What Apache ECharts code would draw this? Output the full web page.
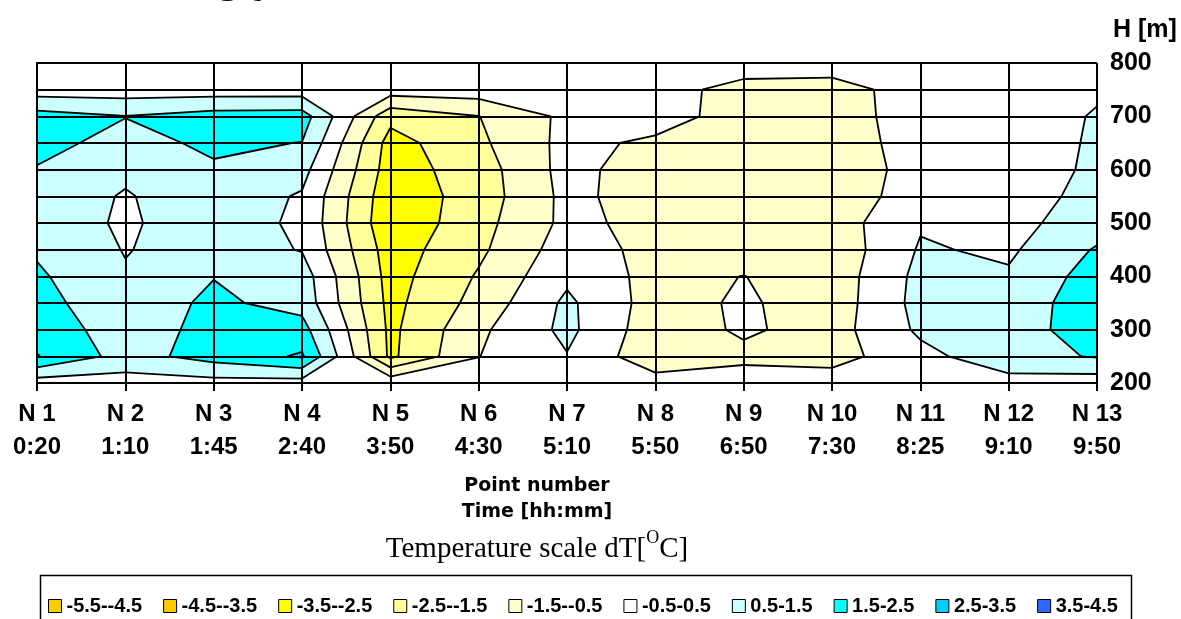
<!DOCTYPE html>
<html>
<head>
<meta charset="utf-8">
<script src="https://cdn.jsdelivr.net/npm/echarts@6/dist/echarts.min.js"></script>
<style>
html,body{margin:0;padding:0;background:#fff;}
#main{width:1181px;height:619px;}
</style>
</head>
<body>
<div id="main"></div>
<script>
var pointLabels = ['N 1','N 2','N 3','N 4','N 5','N 6','N 7','N 8','N 9','N 10','N 11','N 12','N 13'];
var timeLabels = ['0:20','1:10','1:45','2:40','3:50','4:30','5:10','5:50','6:50','7:30','8:25','9:10','9:50'];
var heights = [200,250,300,350,400,450,500,550,600,650,700,750,800];

// dT at each height, N1..N13
var dT800 = [0, -0.1, -0.1, -0.2, 0, 0.05, 0.1, 0, 0.1, 0.1, 0, 0, 0];
var dT750 = [0, 0, 0, 0, 0, 0.04, 0.1, -0.05, -0.9, -1.0, 0.05, 0, 0.45];
var dT700 = [1.9, 1.52, 1.9, 1.95, -2.2, -1.52, -0.27, 0.0, -1.0, -1.0, 0.0, 0.3, 0.53];
var dT650 = [1.75, 1.23, 1.65, 1.48, -2.9, -1.7, -0.2, -0.7, -1.0, -1.0, -0.1, 0.2, 0.57];
var dT600 = [1.45, 0.7, 1.4, 0.85, -3.0, -1.98, -0.15, -1.08, -1.1, -1.0, -0.2, 0.1, 0.63];
var dT550 = [1.1, 0.42, 1.1, 0.4, -3.2, -2.03, -0.23, -1.0, -1.1, -1.0, -0.1, 0.1, 0.77];
var dT500 = [1.0, 0.375, 1.0, 0.33, -3.3, -1.85, -0.25, -0.8, -1.1, -1.0, 0.4, 0.2, 1.0];
var dT450 = [1.38, 0.45, 1.0, 0.45, -3.0, -1.7, 0.0, -0.8, -1.1, -1.18, 0.6, 0.34, 1.6];
var dT400 = [1.65, 0.6, 1.47, 1.0, -2.9, -1.4, 0.3, -0.84, -0.48, -1.07, 0.78, 0.62, 1.95];
var dT350 = [1.8, 0.9, 1.7, 1.13, -2.8, -1.15, 0.7, -0.94, -0.35, -1.05, 0.84, 0.9, 2.1];
var dT300 = [2.1, 1.0, 1.8, 1.9, -2.73, -0.7, 0.75, -1.09, -0.35, -0.91, 0.68, 1.0, 2.06];
var dT250 = [2.55, 1.1, 1.9, 2.62, -2.7, -0.52, 0.45, -1.2, -0.74, -0.9, 0.2, 1.14, 1.58];
var dT200 = [0.0, 0.1, 0.15, 0.08, 0.2, 0.0, 0.2, -0.05, 0.0, 0.03, 0.0, 0.14, -0.05];

var bandLimits = [-5.5,-4.5,-3.5,-2.5,-1.5,-0.5,0.5,1.5,2.5,3.5,4.5];
var bandNames = ['-5.5--4.5','-4.5--3.5','-3.5--2.5','-2.5--1.5','-1.5--0.5','-0.5-0.5','0.5-1.5','1.5-2.5','2.5-3.5','3.5-4.5'];
var bandColors = ['#FFCC00','#FFC800','#FFFF00','#FFFF99','#FFFFCC','#FFFFFF','#CCFFFF','#00FFFF','#00CCFF','#3366FF'];

var rows = [dT200,dT250,dT300,dT350,dT400,dT450,dT500,dT550,dT600,dT650,dT700,dT750,dT800];

var cells = [];
for (var j = 0; j < heights.length - 1; j++) {
	for (var i = 0; i < pointLabels.length - 1; i++) {
		cells.push([i, heights[j], j]);
	}
}

function cellCorners(i, j) {
	return [
		{x: i, y: heights[j], v: rows[j][i]},
		{x: i + 1, y: heights[j], v: rows[j][i + 1]},
		{x: i + 1, y: heights[j + 1], v: rows[j + 1][i + 1]},
		{x: i, y: heights[j + 1], v: rows[j + 1][i]}
	];
}

// keep the part of the cell above (or below) level t, values linear along edges
function clip(poly, t, above) {
	var out = [];
	for (var k = 0; k < poly.length; k++) {
		var p = poly[k], q = poly[(k + 1) % poly.length];
		var pin = above ? p.v >= t : p.v <= t;
		var qin = above ? q.v >= t : q.v <= t;
		if (pin) out.push(p);
		if (pin !== qin) {
			var f = (t - p.v) / (q.v - p.v);
			out.push({x: p.x + (q.x - p.x) * f, y: p.y + (q.y - p.y) * f, v: t});
		}
	}
	return out;
}

function renderFill(params, api) {
	var c = cellCorners(api.value(0), api.value(2));
	var children = [];
	for (var b = 0; b < bandColors.length; b++) {
		var poly = clip(clip(c, bandLimits[b], true), bandLimits[b + 1], false);
		if (poly.length < 3) continue;
		var pts = poly.map(function (p) { return api.coord([p.x, p.y]); });
		children.push({
			type: 'polygon',
			shape: {points: pts},
			style: {fill: bandColors[b], stroke: bandColors[b], lineWidth: 1}
		});
	}
	return {type: 'group', children: children};
}

function renderLines(params, api) {
	var c = cellCorners(api.value(0), api.value(2));
	var children = [];
	for (var l = 1; l < bandLimits.length - 1; l++) {
		var t = bandLimits[l];
		var cross = [];
		for (var e = 0; e < 4; e++) {
			var a = c[e], b = c[(e + 1) % 4];
			if ((a.v >= t) !== (b.v >= t)) {
				var f = (t - a.v) / (b.v - a.v);
				cross[e] = api.coord([a.x + (b.x - a.x) * f, a.y + (b.y - a.y) * f]);
			}
		}
		var idx = [];
		for (var e2 = 0; e2 < 4; e2++) if (cross[e2]) idx.push(e2);
		var pairs = [];
		if (idx.length === 2) {
			pairs.push([idx[0], idx[1]]);
		} else if (idx.length === 4) {
			var mid = (c[0].v + c[1].v + c[2].v + c[3].v) / 4;
			var c0up = c[0].v >= t;
			if ((mid >= t) === c0up) {
				pairs.push([0, 1]); pairs.push([2, 3]);
			} else {
				pairs.push([3, 0]); pairs.push([1, 2]);
			}
		}
		pairs.forEach(function (pr) {
			var p1 = cross[pr[0]], p2 = cross[pr[1]];
			children.push({
				type: 'line',
				shape: {x1: p1[0], y1: p1[1], x2: p2[0], y2: p2[1]},
				style: {stroke: '#000', lineWidth: 1.8}
			});
		});
	}
	return {type: 'group', children: children};
}

var series = [
	{name: 'fill', type: 'custom', renderItem: renderFill, data: cells, z: 2, silent: true, clip: true},
	{name: 'lines', type: 'custom', renderItem: renderLines, data: cells, z: 3, silent: true, clip: true}
];
bandNames.forEach(function (n, k) {
	series.push({name: n, type: 'scatter', data: [], itemStyle: {color: bandColors[k], opacity: 1}});
});

var chart = echarts.init(document.getElementById('main'));
var option = {
	animation: false,
	backgroundColor: '#fff',
	grid: {left: 37, right: 84, top: 63, bottom: 236},
	xAxis: {
		type: 'value', min: 0, max: 12, interval: 1, z: 10,
		axisLine: {show: true, lineStyle: {color: '#000', width: 2}},
		axisTick: {show: true, length: 8, lineStyle: {color: '#000', width: 2}},
		splitLine: {show: true, lineStyle: {color: '#000', width: 2}},
		axisLabel: {
			formatter: function (v) { return pointLabels[v] + '\n' + timeLabels[v]; },
			fontFamily: 'Liberation Sans, Arial', fontWeight: 'bold', fontSize: 24,
			lineHeight: 33, color: '#000', margin: 15
		}
	},
	yAxis: {
		type: 'value', position: 'right', min: 200, max: 800, interval: 50, z: 10,
		axisLine: {show: true, lineStyle: {color: '#000', width: 2}},
		axisTick: {show: true, length: 9, lineStyle: {color: '#000', width: 2}},
		splitLine: {show: true, lineStyle: {color: '#000', width: 2}},
		axisLabel: {
			formatter: function (v) { return v % 100 === 0 ? String(v) : ''; },
			fontFamily: 'Liberation Sans, Arial', fontWeight: 'bold', fontSize: 25,
			color: '#000', margin: 13
		}
	},
	legend: {
		data: bandNames, left: 48, top: 596, padding: 0,
		itemWidth: 13, itemHeight: 13, itemGap: 21, icon: 'rect',
		selectedMode: false,
		itemStyle: {borderColor: '#000', borderWidth: 1, opacity: 1},
		textStyle: {fontFamily: 'Liberation Sans, Arial', fontWeight: 'bold', fontSize: 20, color: '#000'}
	},
	graphic: [
		{type: 'text', left: 0, top: -46, silent: true,
			style: {text: 'it, accordingly.', font: '48px "Liberation Serif", serif', fill: '#000'}},
		{type: 'text', left: 1113, top: 18, silent: true,
			style: {text: 'H [m]', font: 'bold 25px "Liberation Sans", Arial', fill: '#000'}},
		{type: 'text', x: 537, y: 486, silent: true,
			style: {text: 'Point number', font: 'bold 19px "DejaVu Sans"', fill: '#000', align: 'center', verticalAlign: 'middle'}},
		{type: 'text', x: 537, y: 512, silent: true,
			style: {text: 'Time [hh:mm]', font: 'bold 19px "DejaVu Sans"', fill: '#000', align: 'center', verticalAlign: 'middle'}},
		{type: 'text', x: 537, y: 549, silent: true,
			style: {
				text: 'Temperature scale dT[{sup|O}C]',
				font: '29px "Liberation Serif", serif', fill: '#000', align: 'center', verticalAlign: 'middle',
				rich: {sup: {font: '18px "Liberation Serif", serif', fill: '#000', padding: [0, 0, 22, 0]}}
			}},
		{type: 'rect', left: 38, top: 573, silent: true,
			shape: {width: 1091, height: 60},
			style: {fill: 'none', stroke: '#000', lineWidth: 1.5}}
	],
	series: series
};
chart.setOption(option);
</script>
</body>
</html>
